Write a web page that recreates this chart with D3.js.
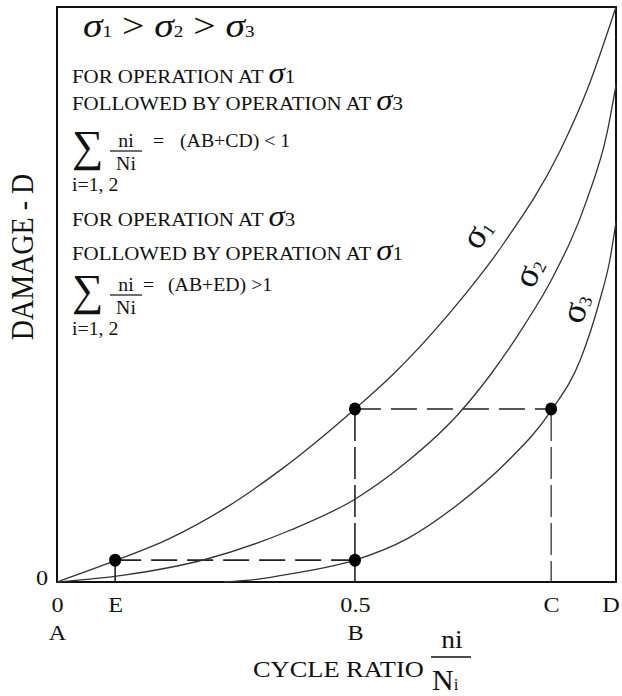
<!DOCTYPE html>
<html lang="en">
<head>
<meta charset="UTF-8">
<title>Damage vs cycle ratio</title>
<script src="https://d3js.org/d3.v7.min.js"></script>
<style>
  body { margin: 0; background: #fff; }
  text { font-family: "Liberation Serif", "DejaVu Serif", serif; fill: #111; }
</style>
</head>
<body>
<script>
// damage D against cycle ratio n/N (both 0..1)
const sigma1 = [[0, 0], [0.104, 0.037], [0.2, 0.075], [0.3, 0.128], [0.4, 0.195], [0.533, 0.301],
  [0.6, 0.36], [0.7, 0.465], [0.8, 0.59], [0.9, 0.75], [0.95, 0.86], [1, 1]];
const sigma2 = [[0, 0], [0.12, 0.012], [0.268, 0.04], [0.417, 0.09], [0.533, 0.144], [0.626, 0.209],
  [0.716, 0.29], [0.775, 0.36], [0.835, 0.445], [0.887, 0.53], [0.948, 0.665], [0.984, 0.781], [1, 0.864]];
const sigma3 = [[0.299, 0], [0.36, 0.005], [0.417, 0.014], [0.533, 0.038], [0.626, 0.075], [0.716, 0.134],
  [0.805, 0.209], [0.884, 0.298], [0.936, 0.386], [0.971, 0.49], [0.989, 0.56], [1, 0.626]];

const curveNames = ['1', '2', '3'];
const labelPos = [[0.768, 0.595], [0.862, 0.53], [0.947, 0.47]];
const labelAngle = [-55, -64, -72];

// marked points E, B (low), B (high), C
const pointX = [0.104, 0.533, 0.533, 0.884];
const pointY = [0.038, 0.038, 0.301, 0.301];

const tickValues = [0, 0.104, 0.533, 0.884, 1];
const tickLabels = ['0', 'E', '0.5', 'C', 'D'];
const letterValues = [0, 0.533];
const letterLabels = ['A', 'B'];

const W = 622, H = 696;
const SX = 1.1; // the lettering in the figure is a bit wide
const svg = d3.select('body').append('svg').attr('width', W).attr('height', H);
svg.append('rect').attr('width', W).attr('height', H).attr('fill', '#fff');

const x = d3.scaleLinear().domain([0, 1]).range([57, 616]);
const y = d3.scaleLinear().domain([0, 1]).range([582, 7]);

// frame
svg.append('rect')
  .attr('x', x(0)).attr('y', y(1))
  .attr('width', x(1) - x(0)).attr('height', y(0) - y(1))
  .attr('fill', 'none').attr('stroke', '#111').attr('stroke-width', 2);

// axes: only the labels, the frame is the line
const xAxis = svg.append('g').attr('transform', `translate(0,${y(0)})`)
  .call(d3.axisBottom(x).tickValues(tickValues).tickSize(0).tickPadding(14)
    .tickFormat((d, i) => tickLabels[i]));
const xAxis2 = svg.append('g').attr('transform', `translate(0,${y(0) + 28})`)
  .call(d3.axisBottom(x).tickValues(letterValues).tickSize(0).tickPadding(14)
    .tickFormat((d, i) => letterLabels[i]));
const yAxis = svg.append('g').attr('transform', `translate(${x(0)},0)`)
  .call(d3.axisLeft(y).tickValues([0]).tickSize(0).tickPadding(8).tickFormat(d3.format('d')));
[xAxis, xAxis2, yAxis].forEach(a => {
  a.select('.domain').remove();
  a.selectAll('text').attr('font-family', '"Liberation Serif", serif').attr('font-size', 22)
    .attr('fill', '#111').attr('transform', `scale(${SX},1)`);
});
xAxis.selectAll('.tick').filter(d => d === 1).select('text').attr('dx', -5);
yAxis.selectAll('text').attr('dy', '0.12em');

// guide lines
const guides = svg.append('g').attr('stroke', '#222').attr('stroke-width', 1.6).attr('fill', 'none');
guides.append('line').attr('x1', x(pointX[0])).attr('x2', x(pointX[1]))
  .attr('y1', y(pointY[0])).attr('y2', y(pointY[1])).attr('stroke-dasharray', '26,10');
guides.append('line').attr('x1', x(pointX[2])).attr('x2', x(pointX[3]))
  .attr('y1', y(pointY[2])).attr('y2', y(pointY[3])).attr('stroke-dasharray', '26,10');
guides.append('line').attr('x1', x(pointX[0])).attr('x2', x(pointX[0]))
  .attr('y1', y(pointY[0])).attr('y2', y(0));
guides.append('line').attr('x1', x(pointX[1])).attr('x2', x(pointX[1]))
  .attr('y1', y(pointY[1])).attr('y2', y(0));
guides.append('line').attr('x1', x(pointX[2])).attr('x2', x(pointX[2]))
  .attr('y1', y(pointY[2])).attr('y2', y(pointY[1])).attr('stroke-dasharray', '32,6');
guides.append('line').attr('x1', x(pointX[3])).attr('x2', x(pointX[3]))
  .attr('y1', y(pointY[3])).attr('y2', y(0)).attr('stroke-dasharray', '32,6').attr('stroke-width', 1.2);

// curves
const line = d3.line().x(d => x(d[0])).y(d => y(d[1])).curve(d3.curveMonotoneX);
svg.selectAll('.curve').data([sigma1, sigma2, sigma3]).enter()
  .append('path').attr('class', 'curve')
  .attr('d', line).attr('fill', 'none').attr('stroke', '#333').attr('stroke-width', 1.3);

// curve labels
const lab = svg.selectAll('.clabel').data(curveNames).enter()
  .append('text').attr('class', 'clabel')
  .attr('text-anchor', 'middle')
  .attr('transform', (d, i) => `translate(${x(labelPos[i][0])},${y(labelPos[i][1])}) rotate(${labelAngle[i]})`);
lab.append('tspan').attr('font-size', 36).text('σ');
lab.append('tspan').attr('font-size', 18).attr('dy', 2).text(d => d);

// dots
svg.selectAll('.dot').data(pointX).enter()
  .append('ellipse').attr('class', 'dot')
  .attr('cx', d => x(d)).attr('cy', (d, i) => y(pointY[i]))
  .attr('rx', 6).attr('ry', 6.5).attr('fill', '#000');

// text placed with a horizontal stretch
function put(g, px, py, size, sx) {
  return g.append('text').attr('transform', `translate(${px},${py}) scale(${sx || SX},1)`)
    .attr('font-size', size);
}

// axis titles
svg.append('text')
  .attr('transform', 'translate(33,257) rotate(-90) scale(1,1.1)')
  .attr('text-anchor', 'middle').attr('font-size', 28)
  .text('DAMAGE - D');

put(svg, 253, 677, 24).text('CYCLE RATIO');
put(svg, 452, 648, 25).attr('text-anchor', 'middle').text('ni');
svg.append('line').attr('x1', 431).attr('x2', 471).attr('y1', 657).attr('y2', 657)
  .attr('stroke', '#111').attr('stroke-width', 1.4);
const den = put(svg, 432, 690, 30, 1);
den.append('tspan').text('N');
den.append('tspan').attr('font-size', 17).text('i');

// annotation block
const note = svg.append('g');
function sigmaLine(py, pre, sub) {
  const t = put(note, 72, py, 19);
  t.append('tspan').text(pre);
  t.append('tspan').attr('font-size', 30).attr('font-style', 'italic').text('σ');
  t.append('tspan').text(sub);
}
const head = put(note, 83, 37, 33, 1.2);
curveNames.forEach((n, i) => {
  head.append('tspan').attr('font-style', 'italic').text('σ');
  head.append('tspan').attr('font-size', 16).text(n);
  if (i < 2) head.append('tspan').text(' > ');
});
sigmaLine(83, 'FOR OPERATION AT ', '1');
sigmaLine(110, 'FOLLOWED BY OPERATION AT ', '3');
sigmaLine(226, 'FOR OPERATION AT  ', '3');
sigmaLine(260, 'FOLLOWED BY OPERATION AT ', '1');

function sumBlock(top, rhs, eqX, rhsX) {
  put(note, 72, top + 33, 44, 1).text('∑');
  put(note, 126, top + 19, 18).attr('text-anchor', 'middle').text('ni');
  note.append('line').attr('x1', 110).attr('x2', 142).attr('y1', top + 23).attr('y2', top + 23)
    .attr('stroke', '#111').attr('stroke-width', 1.2);
  put(note, 126, top + 42, 18).attr('text-anchor', 'middle').text('Ni');
  put(note, eqX, top + 19, 18).text('=');
  put(note, rhsX, top + 19, 18).text(rhs);
  put(note, 72, top + 63, 18).text('i=1, 2');
}
sumBlock(128, '(AB+CD) < 1', 153, 180);
sumBlock(272, '(AB+ED) >1', 143, 168);
</script>
</body>
</html>
